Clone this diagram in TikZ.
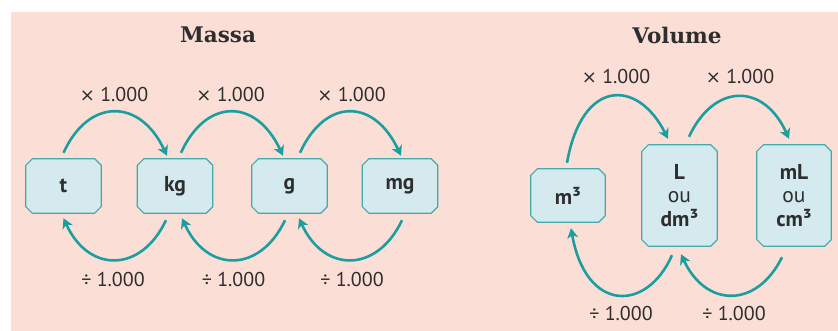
\documentclass[tikz,border=0pt]{standalone}
\usepackage{fontspec}
\setmainfont{PT Sans}
\newfontfamily\titlefont{DejaVu Serif}
\newfontfamily\symfont{DejaVu Sans}
\usetikzlibrary{arrows.meta}
\pgfdeclarelayer{background}
\pgfsetlayers{background,main}
\definecolor{paper}{HTML}{FBDFD6}
\definecolor{boxfill}{HTML}{D4EAEF}
\definecolor{boxedge}{HTML}{45AAAA}
\definecolor{arrowteal}{HTML}{1C9E9F}
\definecolor{inkgray}{HTML}{2E2E2E}
\newcommand\timessign{{\symfont\fontsize{18}{20}\selectfont ×}}
\tikzset{
  unitnode/.style={inner sep=0pt, align=center, text=inkgray,
    font=\fontsize{21.5}{23.5}\selectfont\bfseries},
  unitframe/.style={draw=boxedge, line width=1.2pt, fill=boxfill},
  conv/.style={draw=arrowteal, line width=2.6pt,
    -{Stealth[length=10pt,width=11pt,inset=3pt]}},
  factor/.style={inner sep=0pt, text=inkgray, font=\fontsize{20}{20}\selectfont},
  heading/.style={inner sep=0pt, text=inkgray,
    font=\titlefont\bfseries\fontsize{21.5}{24}\selectfont},
}
% unit box with chamfered corners: name, cx, cy, width, height, text
\newcommand\unitbox[6]{%
  \node[unitnode, minimum width=#4pt, minimum height=#5pt] (#1) at (#2,#3) {#6};
  \begin{pgfonlayer}{background}
    \draw[unitframe]
      ([xshift=6.5pt]#1.north west) -- ([xshift=-6.5pt]#1.north east)
      -- ([yshift=-6.5pt]#1.north east) -- ([yshift=6.5pt]#1.south east)
      -- ([xshift=-6.5pt]#1.south east) -- ([xshift=6.5pt]#1.south west)
      -- ([yshift=6.5pt]#1.south west) -- ([yshift=-6.5pt]#1.north west)
      -- cycle;
  \end{pgfonlayer}%
}
\begin{document}
\begin{tikzpicture}[x=1pt,y=-1pt]
\useasboundingbox (0,0) rectangle (838,331);
\begin{pgfonlayer}{background}
  \fill[paper] (11,12) rectangle (838,331);
\end{pgfonlayer}

% ---------- Massa ----------
\node[heading] (massa) at (218,35) {Massa};
\unitbox{t}{63.5}{186}{75}{54}{t}
\unitbox{kg}{175}{186}{75}{54}{kg}
\unitbox{g}{289.5}{186}{75}{54}{g}
\unitbox{mg}{400}{186}{75}{54}{mg}

\draw[conv] ([yshift=6pt]t.north) .. controls +(25,-55) and +(-27,-58) .. ([xshift=-8pt,yshift=3pt]kg.north);
\draw[conv] ([xshift=6pt,yshift=6pt]kg.north) .. controls +(25,-55) and +(-27,-58) .. ([xshift=-6.5pt,yshift=3pt]g.north);
\draw[conv] ([xshift=10.5pt,yshift=6pt]g.north) .. controls +(25,-55) and +(-27,-58) .. ([xshift=1pt,yshift=3pt]mg.north);

\draw[conv] ([xshift=-9pt,yshift=-7pt]kg.south) .. controls +(-25,53) and +(25,55) .. ([yshift=-5pt]t.south);
\draw[conv] ([xshift=-4.5pt,yshift=-7pt]g.south) .. controls +(-25,53) and +(25,55) .. ([xshift=7pt,yshift=-5pt]kg.south);
\draw[conv] ([xshift=2pt,yshift=-7pt]mg.south) .. controls +(-25,53) and +(25,55) .. ([xshift=9.5pt,yshift=-5pt]g.south);

\node[factor] (mul1) at (114,94.5) {\timessign\ 1.000};
\node[factor] (mul2) at (230.5,94.5) {\timessign\ 1.000};
\node[factor] (mul3) at (351.5,94.5) {\timessign\ 1.000};
\node[factor] (div1) at (113,280) {÷ 1.000};
\node[factor] (div2) at (233.5,280) {÷ 1.000};
\node[factor] (div3) at (352,280) {÷ 1.000};

% ---------- Volume ----------
\node[heading] (volume) at (677,35) {Volume};
\unitbox{m3}{568}{195.5}{74}{53}{m³}
\unitbox{L}{679.5}{195.5}{75}{101}{L\\{\mdseries ou}\\dm³}
\unitbox{mL}{794}{195.5}{74}{101}{mL\\{\mdseries ou}\\cm³}

\draw[conv] ([xshift=-1pt,yshift=6pt]m3.north) .. controls +(15,-85) and +(-30,-60) .. ([xshift=-11.5pt,yshift=6pt]L.north);
\draw[conv] ([xshift=9.5pt,yshift=8pt]L.north) .. controls +(25,-54) and +(-25,-56) .. ([xshift=-5pt,yshift=6pt]mL.north);

\draw[conv] ([xshift=-7.5pt,yshift=-9pt]L.south) .. controls +(-25,57) and +(15,85) .. ([xshift=3pt,yshift=-6pt]m3.south);
\draw[conv] ([xshift=-12pt,yshift=-11pt]mL.south) .. controls +(-25,51) and +(25,54) .. ([xshift=1.5pt,yshift=-8pt]L.south);

\node[factor] (vmul1) at (616,76.5) {\timessign\ 1.000};
\node[factor] (vmul2) at (740,76.5) {\timessign\ 1.000};
\node[factor] (vdiv1) at (621,313) {÷ 1.000};
\node[factor] (vdiv2) at (734,313) {÷ 1.000};
\end{tikzpicture}
\end{document}
